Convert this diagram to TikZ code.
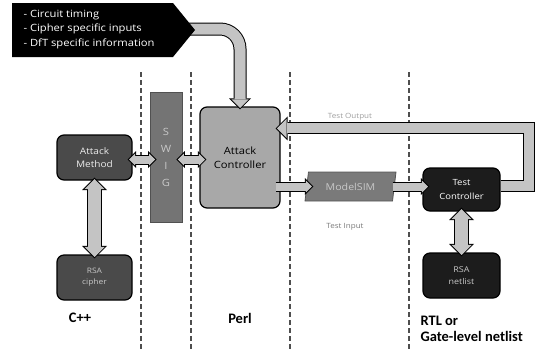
\documentclass[tikz,border=0pt]{standalone}
\usepackage{fontspec}
\setmainfont{Open Sans}[FakeStretch=1.12]
\newfontfamily\labelfont{Carlito}
\usetikzlibrary{arrows.meta,calc,shapes.geometric}
\pgfdeclarelayer{front}
\pgfsetlayers{main,front}

\definecolor{arrowgray}{HTML}{C4C4C4}
\definecolor{acgray}{HTML}{A8A8A8}
\definecolor{amgray}{HTML}{4A4A4A}
\definecolor{swiggray}{HTML}{747474}
\definecolor{msgray}{HTML}{7A7A7A}
\definecolor{tcblack}{HTML}{1C1C1C}
\definecolor{dashgray}{HTML}{4E4E4E}
\definecolor{paletext}{HTML}{C8C8C8}

\tikzset{
  bighead/.tip={Triangle[width=22pt,length=11pt,line width=0pt]},
  bigheadin/.tip={Triangle[width=17.18pt,length=8.59pt,line width=0pt]},
  linkhead/.tip={Triangle[width=17pt,length=8.5pt,line width=0pt]},
  linkheadin/.tip={Triangle[width=12.18pt,length=6.09pt,line width=0pt]},
  tallhead/.tip={Triangle[width=25pt,length=12.5pt,line width=0pt]},
  tallheadin/.tip={Triangle[width=20.18pt,length=10.09pt,line width=0pt]},
  feedhead/.tip={Triangle[width=24pt,length=12pt,line width=0pt]},
  feedheadin/.tip={Triangle[width=19.18pt,length=9.59pt,line width=0pt]},
}

\begin{document}
\begin{tikzpicture}[x=1pt, y=-1pt,
box/.style={rectangle, rounded corners=7pt, draw=black, line width=1.2pt, align=center, inner sep=1pt},
lbl/.style={font=\labelfont\bfseries\fontsize{14.5}{16}\selectfont},
note/.style={font=\fontsize{7.2}{8}\selectfont},
divider/.style={draw=dashgray, line width=2pt, dash pattern=on 5pt off 3pt},
calloutarrow/.style={line width=13pt, -{bighead}, postaction={draw=arrowgray, line width=11pt, shorten >=1.41pt, -{bigheadin}}},
linkarrow/.style={line width=10pt, -{linkhead}, postaction={draw=arrowgray, line width=8pt, shorten >=1.41pt, -{linkheadin}}},
linkboth/.style={line width=10pt, {linkhead}-{linkhead}, postaction={draw=arrowgray, line width=8pt, shorten <=1.41pt, shorten >=1.41pt, {linkheadin}-{linkheadin}}},
tallboth/.style={line width=15pt, {tallhead}-{tallhead}, postaction={draw=arrowgray, line width=13pt, shorten <=1.41pt, shorten >=1.41pt, {tallheadin}-{tallheadin}}},
feedarrow/.style={line width=12pt, -{feedhead}, postaction={draw=arrowgray, line width=10pt, shorten >=1.41pt, -{feedheadin}}},
]
\useasboundingbox (0,0) rectangle (537,349);

%Dividers
\foreach \x in {141,191,290,409}
  \draw[divider] (\x,72) -- (\x,349);

%Callout
\begin{pgfonlayer}{front}
\fill[black] (12,3) -- (173,3) -- (195,30) -- (173,57) -- (12,57) -- cycle;
\coordinate (infotip) at (195,30);
\node[anchor=west, align=left, text=white, font=\fontsize{10}{14.5}\selectfont] (infotext) at (20,29.5) {- Circuit timing\\- Cipher specific inputs\\- DfT specific information};
\end{pgfonlayer}

%Nodes
\node[box, fill=acgray, minimum width=80pt, minimum height=101pt, font=\fontsize{10}{14}\selectfont] (ac) at (240,157.5) {Attack\\Controller};
\node[box, fill=amgray, text=white!92!black, minimum width=75pt, minimum height=45pt, font=\fontsize{9}{13}\selectfont] (am) at (94.5,157.5) {Attack\\Method};
\node[box, fill=amgray, text=paletext, minimum width=75pt, minimum height=45pt, font=\fontsize{7.5}{11}\selectfont] (cipher) at (94.5,277.5) {RSA\\cipher};
\node[rectangle, fill=swiggray, draw=swiggray!70!black, line width=0.8pt, minimum width=32pt, minimum height=130pt, align=center, text=paletext, font=\fontsize{10}{17}\selectfont] (swig) at (166,157) {S\\W\\I\\G};
\node[trapezium, trapezium left angle=76, trapezium right angle=104, trapezium stretches body, fill=msgray, draw=msgray!70!black, line width=0.8pt, minimum width=91pt, minimum height=29pt, text=paletext, font=\fontsize{9.5}{11}\selectfont] (ms) at (350.5,186.5) {ModelSIM};
\node[box, fill=tcblack, text=white, minimum width=77pt, minimum height=43pt, font=\fontsize{8.5}{14}\selectfont] (tc) at (461.5,189.5) {Test\\Controller};
\node[box, fill=tcblack, text=paletext, minimum width=77pt, minimum height=45pt, font=\fontsize{8}{11.5}\selectfont] (nl) at (461.5,275.5) {RSA\\netlist};

\node[lbl] (cpp) at (80,318) {C++};
\node[lbl] (perl) at (240,318) {Perl};
\node[lbl, anchor=west, align=left] (rtl) at (417,329) {RTL or\\Gate-level netlist};
\node[note, text=gray!75] (tout) at (350,117) {Test Output};
\node[note, text=gray!95!black] (tin) at (345,227) {Test Input};

%Arrows
\draw[calloutarrow, rounded corners=20pt] ($(infotip)+(-6,-1)$) -| ($(ac.north)+(0,3)$);
\draw[linkboth] ($(am.east)+(-5,2)$) -- ($(swig.west |- am.east)+(7,2)$);
\draw[linkboth] ($(swig.east |- ac.west)+(-6,2)$) -- ($(ac.west)+(7,2)$);
\draw[tallboth] ($(am.south)+(0,-3)$) -- ($(cipher.north)+(0,4)$);
\draw[linkarrow] ($(ac.east |- ms.west)+(-5,0)$) -- ($(ms.west)+(7,0)$);
\draw[linkarrow] ($(ms.east)+(-2,0)$) -- ($(tc.west |- ms.east)+(7,0)$);
\draw[tallboth] ($(tc.south)+(0,-4)$) -- ($(nl.north)+(0,4)$);
\draw[feedarrow] ($(tc.east)+(0,-4)$) -- ++(28,0) |- ($(ac.north east)+(-5,22)$);
\end{tikzpicture}
\end{document}
